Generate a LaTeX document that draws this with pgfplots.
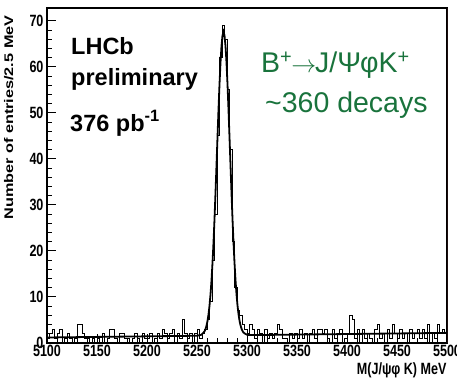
\documentclass[border=0pt]{standalone}
\usepackage{pgfplots}
\pgfplotsset{compat=1.18}
\usepackage{fontspec}
\setmainfont{Liberation Sans}
\newfontfamily\rootfont[FakeStretch=0.77]{Liberation Sans}
\newfontfamily\rootwide[FakeStretch=1.3]{Liberation Sans}
\definecolor{dgreen}{RGB}{25,115,60}
\definecolor{rline}{RGB}{230,90,90}
\begin{document}
\begin{tikzpicture}
\path[use as bounding box] (0,0) rectangle (457pt,378pt);
\begin{axis}[
  at={(47pt,35pt)}, anchor=south west,
  scale only axis, width=400pt, height=335pt,
  xmin=5100, xmax=5500, ymin=0, ymax=72.8,
  xtick={5100,5150,5200,5250,5300,5350,5400,5450,5500},
  xticklabels={5100,5150,5200,5250,5300,5350,5400,5450,5500},
  ytick={0,10,20,30,40,50,60,70},
  yticklabels={0,10,20,30,40,50,60,70},
  minor x tick num=4, minor y tick num=4,
  xtick pos=bottom, ytick pos=left,
  tick align=inside,
  major tick length=9pt, minor tick length=5pt,
  tick style={black, line width=1pt},
  axis line style={line width=1.2pt},
  ticklabel style={font=\rootfont\bfseries\fontsize{16.3}{16.3}\selectfont},
  xticklabel style={anchor=north, yshift=1pt},
  yticklabel style={anchor=east},
]
% histogram (left bin edges, counts)
\addplot[const plot, black, line width=1pt] coordinates {
(5100,1) (5102.5,2) (5105,3) (5107.5,1) (5110,2) (5112.5,3) (5115,0) (5117.5,1) (5120,2) (5122.5,1)
(5125,0) (5127.5,1) (5130,4) (5132.5,4) (5135,2) (5137.5,1) (5140,1) (5142.5,0) (5145,1) (5147.5,0)
(5150,1) (5152.5,0) (5155,2) (5157.5,0) (5160,1) (5162.5,3) (5165,3) (5167.5,1) (5170,0) (5172.5,2)
(5175,2) (5177.5,1) (5180,1) (5182.5,0) (5185,1) (5187.5,2) (5190,1) (5192.5,0) (5195,2) (5197.5,1)
(5200,1) (5202.5,2) (5205,0) (5207.5,1) (5210,2) (5212.5,1) (5215,3) (5217.5,2) (5220,1) (5222.5,2)
(5225,3) (5227.5,0) (5230,2) (5232.5,1) (5235,5) (5237.5,2) (5240,1) (5242.5,2) (5245,0) (5247.5,2)
(5250,3) (5252.5,1) (5255,2) (5257.5,3) (5260,5) (5262.5,9) (5265,18) (5267.5,28) (5270,45) (5272.5,62)
(5275,69) (5277.5,66) (5280,55) (5282.5,42) (5285,22) (5287.5,12) (5290,7) (5292.5,6) (5295,4) (5297.5,3)
(5300,2) (5302.5,4) (5305,3) (5307.5,1) (5310,3) (5312.5,2) (5315,0) (5317.5,3) (5320,1) (5322.5,2)
(5325,1) (5327.5,2) (5330,4) (5332.5,3) (5335,1) (5337.5,1) (5340,0) (5342.5,2) (5345,1) (5347.5,2)
(5350,1) (5352.5,3) (5355,1) (5357.5,2) (5360,0) (5362.5,2) (5365,3) (5367.5,1) (5370,3) (5372.5,3)
(5375,2) (5377.5,3) (5380,1) (5382.5,0) (5385,3) (5387.5,1) (5390,2) (5392.5,3) (5395,0) (5397.5,1)
(5400,2) (5402.5,6) (5405,5) (5407.5,1) (5410,3) (5412.5,0) (5415,3) (5417.5,1) (5420,2) (5422.5,1)
(5425,0) (5427.5,3) (5430,4) (5432.5,1) (5435,2) (5437.5,0) (5440,3) (5442.5,1) (5445,4) (5447.5,2)
(5450,1) (5452.5,3) (5455,1) (5457.5,2) (5460,0) (5462.5,3) (5465,1) (5467.5,2) (5470,3) (5472.5,1)
(5475,3) (5477.5,1) (5480,4) (5482.5,0) (5485,2) (5487.5,1) (5490,4) (5492.5,2) (5495,3) (5497.5,2)
(5500,2)
};
% fit curve
\addplot[black, line width=1.8pt] coordinates {
(5100,1.20) (5200,1.45) (5240,1.55) (5250,1.58) (5254.5,1.80) (5257.5,2.51) (5258.5,3.03)
(5259.5,3.76) (5260.5,4.79) (5261.5,6.20) (5262.5,8.10) (5263.5,10.54) (5264.5,13.61)
(5265.5,17.41) (5266.5,21.82) (5267.5,26.92) (5268.5,32.62) (5269.5,38.62) (5270.5,44.73)
(5271.5,50.73) (5272.5,56.23) (5273.5,60.93) (5274.5,64.54) (5275.5,66.84) (5276.5,67.64)
(5277.5,66.84) (5278.5,64.55) (5279.5,60.95) (5280.5,56.25) (5281.5,50.75) (5282.5,44.76)
(5283.5,38.65) (5284.5,32.66) (5285.5,26.97) (5286.5,21.87) (5287.5,17.47) (5288.5,13.67)
(5289.5,10.61) (5290.5,8.17) (5291.5,6.28) (5292.5,4.87) (5293.5,3.85) (5294.5,3.12)
(5295.5,2.61) (5296.5,2.27) (5298.5,1.96) (5300.5,1.77) (5310,1.73) (5400,1.95) (5500,2.20)
};
\draw[rline, line width=1pt] (rel axis cs:1,0) -- (rel axis cs:1,1);
\end{axis}
\node[rotate=90, anchor=base east, font=\rootwide\bfseries\fontsize{12.5}{12.5}\selectfont] at (13pt,366pt) {Number of entries/2.5 MeV};
\node[anchor=base east, font=\rootfont\bfseries\fontsize{16.3}{16.3}\selectfont] at (450pt,4pt) {M(J/ψφ K) MeV};
\node[anchor=base west, inner sep=0pt, font=\bfseries\fontsize{23.5}{23.5}\selectfont] at (71pt,323pt) {LHCb};
\node[anchor=base west, inner sep=0pt, font=\bfseries\fontsize{23.5}{23.5}\selectfont] at (71pt,292pt) {preliminary};
\node[anchor=base west, inner sep=0pt, font=\bfseries\fontsize{23.5}{23.5}\selectfont] at (70pt,247pt) {376 pb\textsuperscript{-1}};
\node[anchor=base west, inner sep=0pt, text=dgreen, font=\fontsize{28.5}{28.5}\selectfont] at (261pt,305pt) {B\textsuperscript{+}\kern-1pt$\rightarrow$\kern-1ptJ/ΨφK\textsuperscript{+}};
\node[anchor=base west, inner sep=0pt, text=dgreen, font=\fontsize{28.5}{28.5}\selectfont] at (265pt,265pt) {\textasciitilde360 decays};
\end{tikzpicture}
\end{document}
